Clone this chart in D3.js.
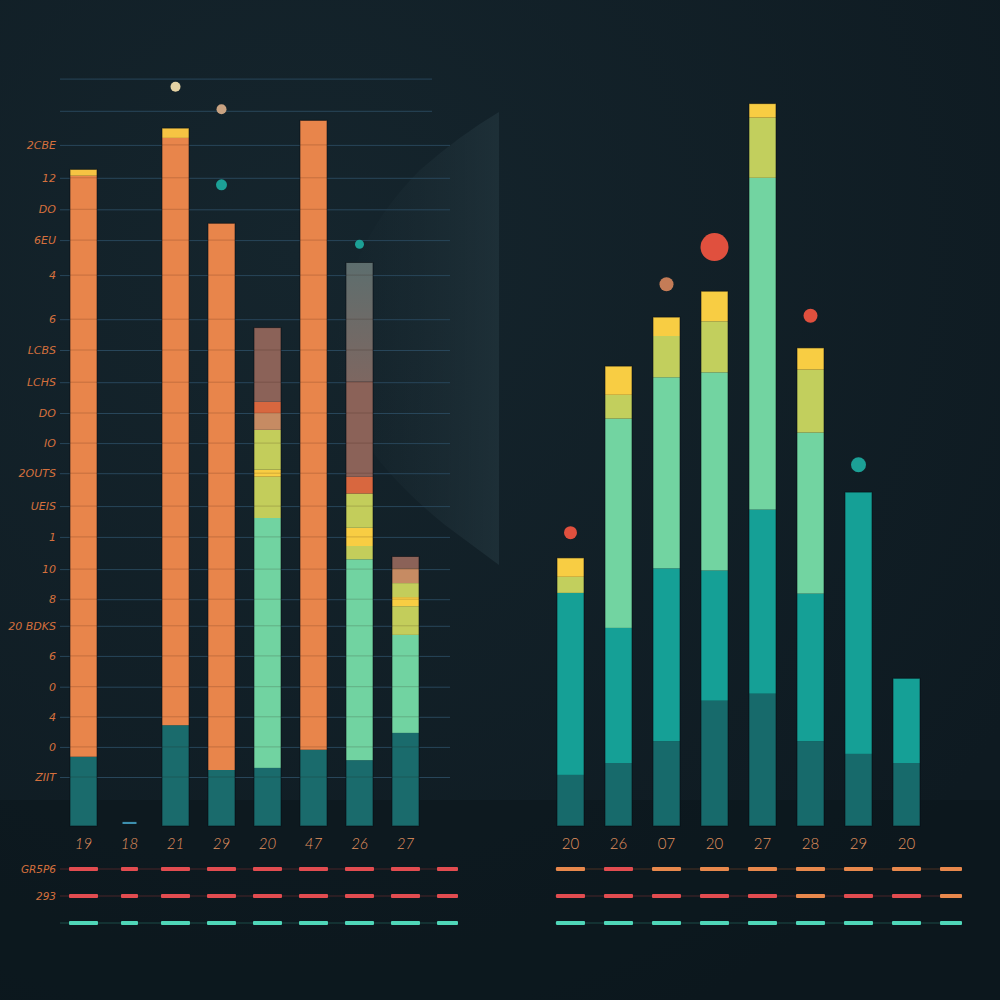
<!DOCTYPE html>
<html><head><meta charset="utf-8">
<script src="https://cdn.jsdelivr.net/npm/d3@7"></script>
<style>html,body{margin:0;padding:0;background:#101c23;} svg{display:block}</style>
</head><body><svg id="c" width="1000" height="1000"></svg>
<script>
// ---------- DATA ----------
const leftCategories = ["19","18","21","29","20","47","26","27"];
const leftKeys   = ["base","orange","cap","green","lime1","yellow","lime2","tan","rust","brown","slate"];
const leftBase   = [9.9, 0.3, 14.4, 8.0, 8.3, 10.9, 9.4, 13.3];
const leftOrange = [83.0, 0, 83.9, 78.1, 0, 89.9, 0, 0];
const leftCap    = [0.9, 0, 1.4, 0, 0, 0, 0, 0];
const leftGreen  = [0, 0, 0, 0, 35.7, 0, 28.7, 14.0];
const leftLime1  = [0, 0, 0, 0, 5.9, 0, 1.9, 4.1];
const leftYellow = [0, 0, 0, 0, 1.0, 0, 2.6, 1.3];
const leftLime2  = [0, 0, 0, 0, 5.7, 0, 4.9, 2.0];
const leftTan    = [0, 0, 0, 0, 2.4, 0, 0, 2.1];
const leftRust   = [0, 0, 0, 0, 1.6, 0, 2.4, 0];
const leftBrown  = [0, 0, 0, 0, 10.6, 0, 13.6, 1.7];
const leftSlate  = [0, 0, 0, 0, 0, 0, 17.0, 0];

const rightCategories = ["20","26","07","20","27","28","29","20"];
const rightKeys   = ["dark","mid","light","lime","yellow"];
const rightDark   = [7.3, 9.0, 12.1, 17.9, 18.9, 12.1, 10.3, 9.0];
const rightMid    = [26.0, 19.3, 24.7, 18.6, 26.3, 21.1, 37.4, 12.1];
const rightLight  = [0, 29.9, 27.3, 28.3, 47.4, 23.0, 0, 0];
const rightLime   = [2.3, 3.4, 5.9, 7.3, 8.6, 9.0, 0, 0];
const rightYellow = [2.7, 4.1, 2.7, 4.3, 2.0, 3.1, 0, 0];

const leftTickValues = [97.3, 92.6, 88.1, 83.7, 78.7, 72.4, 68.0, 63.4, 59.0, 54.7, 50.4, 45.7, 41.3, 36.7, 32.4, 28.6, 24.3, 19.9, 15.6, 11.3, 7.0];
const leftTickLabels = ["2CBE","12","DO","6EU","4","6","LCBS","LCHS","DO","IO","2OUTS","UEIS","1","10","8","20 BDKS","6","0","4","0","ZIIT"];
const leftTopGrid = [106.7, 102.1];

const leftDotSlots  = [2, 3, 3, 6];
const leftDotValues = [105.6, 102.4, 91.6, 83.1];
const leftDotSizes  = [5, 5, 5.5, 4.5];
const leftDotKinds  = ["cream", "sand", "teal", "teal"];

const rightDotSlots  = [0, 2, 3, 5, 6];
const rightDotValues = [41.9, 77.4, 82.7, 72.9, 51.6];
const rightDotSizes  = [6.5, 7, 14, 7, 7.5];
const rightDotKinds  = ["red", "copper", "red", "red", "teal"];

const legendLabelsLeft = ["GR5P6", "293", ""];
const leftLegendRows = [
  ["r","r","r","r","r","r","r","r","r"],
  ["r","r","r","r","r","r","r","r","r"],
  ["t","t","t","t","t","t","t","t","t"]
];
const rightLegendRows = [
  ["o","r","o","o","o","o","o","o","o"],
  ["r","r","r","r","r","o","r","r","o"],
  ["t","t","t","t","t","t","t","t","t"]
];

// ---------- STYLES ----------
const segColor = {
  base:"#1a6b6c", orange:"#e8854b", cap:"#f6c443", green:"#71d3a1", lime1:"#c3cd5b",
  yellow:"#f8cd43", lime2:"#c3cd5b", tan:"#c68b63", rust:"#d8673f", brown:"#8b6258",
  slate:"url(#slateGrad)",
  dark:"#176a6b", mid:"#15a096", light:"#72d4a1", lime:"#c2cf5d"
};
const dotColor = {cream:"#e6d3a3", sand:"#c9a382", teal:"#1ca096", red:"#e0503e", copper:"#c47c57"};
const dashColor = {r:"#e24c50", o:"#e8884c", t:"#4fd6b8"};
const dashLine = {r:"#4a2429", o:"#4d3023", t:"#1b4a47"};

const svg = d3.select("#c");
const defs = svg.append("defs");
const rg = defs.append("radialGradient").attr("id","bgGrad").attr("cx","30%").attr("cy","25%").attr("r","85%");
rg.append("stop").attr("offset","0%").attr("stop-color","#15252d");
rg.append("stop").attr("offset","100%").attr("stop-color","#0e1a21");
const sg = defs.append("linearGradient").attr("id","slateGrad").attr("x1",0).attr("y1",0).attr("x2",0).attr("y2",1);
sg.append("stop").attr("offset","0%").attr("stop-color","#5d6e6e");
sg.append("stop").attr("offset","100%").attr("stop-color","#7d6761");
const pg = defs.append("linearGradient").attr("id","panelGrad").attr("x1",0).attr("y1",0).attr("x2",1).attr("y2",0);
pg.append("stop").attr("offset","0%").attr("stop-color","#1d2e36").attr("stop-opacity",0);
pg.append("stop").attr("offset","100%").attr("stop-color","#22353d").attr("stop-opacity",0.7);

svg.append("rect").attr("width",1000).attr("height",1000).attr("fill","url(#bgGrad)");
svg.append("path").attr("d","M499,112 L499,565 L445,525 Q340,440 335,360 Q340,250 420,170 Q460,135 499,112 Z")
  .attr("fill","url(#panelGrad)");
svg.append("rect").attr("x",0).attr("y",800).attr("width",1000).attr("height",200).attr("fill","#0b151b").attr("opacity",0.55);

const y = d3.scaleLinear().domain([0,100]).range([826,126]);
const xL = d3.scalePoint().domain(d3.range(9)).range([83.5, 451.5]);
const xR = d3.scalePoint().domain(d3.range(9)).range([570.5, 954.5]);
const barW = 27, narrowW = 14;

// ---------- LEFT GRID / AXIS ----------
svg.append("g").selectAll("line").data(leftTopGrid).join("line")
  .attr("x1",60).attr("x2",432).attr("y1",d=>y(d)).attr("y2",d=>y(d))
  .attr("stroke","#28465a").attr("stroke-width",1);

const axis = d3.axisLeft(y).tickValues(leftTickValues)
  .tickFormat((d,i)=>leftTickLabels[i]).tickSize(-390).tickPadding(4);
const axG = svg.append("g").attr("transform","translate(60,0)").call(axis);
axG.select(".domain").remove();
axG.selectAll(".tick line").attr("stroke","#28465a").attr("stroke-width",1);
axG.selectAll(".tick text").attr("fill","#d5703d").attr("font-size",11)
  .attr("font-style","italic").attr("font-family","'DejaVu Sans', sans-serif");

// ---------- BARS ----------
function drawBars(keys, rows, x, n) {
  const table = d3.range(n).map(i => { const o = {i}; keys.forEach((k,j)=>o[k]=rows[j][i]); return o; });
  const stack = d3.stack().keys(keys)(table);
  const totals = table.map(o => d3.sum(keys, k => o[k]));
  const g = svg.append("g");
  stack.forEach(s => {
    g.selectAll(null).data(s.filter(d => d[1]-d[0] > 0)).join("rect")
      .attr("x", d => x(d.data.i) - (totals[d.data.i] < 1 ? narrowW : barW)/2)
      .attr("width", d => totals[d.data.i] < 1 ? narrowW : barW)
      .attr("y", d => totals[d.data.i] < 1 ? y(d[1]) - 2 : y(d[1]))
      .attr("height", d => Math.max(y(d[0]) - y(d[1]), 1.5))
      .attr("fill", d => totals[d.data.i] < 1 ? "#3d8fae" : segColor[s.key]);
  });
  g.selectAll("rect.outline").data(totals.map((t,i)=>({t,i})).filter(d=>d.t>=1)).join("rect")
    .attr("x", d => x(d.i) - barW/2).attr("width", barW)
    .attr("y", d => y(d.t)).attr("height", d => y(0)-y(d.t))
    .attr("fill","none").attr("stroke","rgba(4,10,14,0.55)").attr("stroke-width",1);
  return totals;
}

const leftTotals = drawBars(leftKeys,
  [leftBase,leftOrange,leftCap,leftGreen,leftLime1,leftYellow,leftLime2,leftTan,leftRust,leftBrown,leftSlate],
  xL, leftCategories.length);

// grid lines showing faintly over left bars
const clip = defs.append("clipPath").attr("id","barClip");
clip.selectAll("rect").data(leftTotals.map((t,i)=>({t,i})).filter(d=>d.t>=1)).join("rect")
  .attr("x", d => xL(d.i) - barW/2).attr("width", barW)
  .attr("y", d => y(d.t)).attr("height", d => y(0)-y(d.t));
svg.append("g").attr("clip-path","url(#barClip)")
  .selectAll("line").data(leftTickValues.concat(leftTopGrid)).join("line")
  .attr("x1",60).attr("x2",450).attr("y1",d=>y(d)).attr("y2",d=>y(d))
  .attr("stroke","rgba(40,10,0,0.18)").attr("stroke-width",1);

drawBars(rightKeys, [rightDark,rightMid,rightLight,rightLime,rightYellow], xR, rightCategories.length);

// ---------- DOTS ----------
function drawDots(slots, values, sizes, kinds, x) {
  svg.append("g").selectAll("circle").data(slots.map((s,i)=>({s,v:values[i],r:sizes[i],k:kinds[i]}))).join("circle")
    .attr("cx", d => x(d.s)).attr("cy", d => y(d.v)).attr("r", d => d.r)
    .attr("fill", d => dotColor[d.k]);
}
drawDots(leftDotSlots, leftDotValues, leftDotSizes, leftDotKinds, xL);
drawDots(rightDotSlots, rightDotValues, rightDotSizes, rightDotKinds, xR);

// ---------- CATEGORY LABELS ----------
function drawLabels(cats, x, italic) {
  svg.append("g").selectAll("text").data(cats).join("text")
    .attr("x", (d,i) => x(i)).attr("y", 849).attr("text-anchor","middle")
    .attr("font-family","Lato, 'Open Sans', sans-serif").attr("font-weight",300)
    .attr("font-style", italic ? "italic" : "normal")
    .attr("font-size",15).attr("fill","#e3935f").text(d => d);
}
drawLabels(leftCategories, xL, true);
drawLabels(rightCategories, xR, false);

// ---------- LEGEND LINES ----------
const legendY = [869, 896, 923];
function drawLegend(rows, x, x0, x1, totals) {
  rows.forEach((row, r) => {
    const g = svg.append("g");
    g.append("line").attr("x1",x0).attr("x2",x1).attr("y1",legendY[r]).attr("y2",legendY[r])
      .attr("stroke", dashLine[row[0]]).attr("stroke-width",1);
    g.selectAll("rect").data(row).join("rect")
      .attr("x", (d,i) => x(i) - ((totals && totals[i] < 1) ? 17 : 29)/2)
      .attr("width", (d,i) => {
        const w = (totals && totals[i] < 1) ? 17 : 29;
        const left = x(i) - w/2;
        return Math.max(0, Math.min(left + w, x1) - left);
      })
      .attr("y", legendY[r]-2).attr("height",4).attr("rx",1)
      .attr("fill", d => dashColor[d]);
  });
}
drawLegend(leftLegendRows, xL, 60, 458, leftTotals);
drawLegend(rightLegendRows, xR, 555, 962, null);

svg.append("g").selectAll("text").data(legendLabelsLeft).join("text")
  .attr("x",56).attr("y",(d,i)=>legendY[i]+4).attr("text-anchor","end")
  .attr("font-size",10.5).attr("font-style","italic").attr("font-family","'DejaVu Sans', sans-serif")
  .attr("fill","#d5703d").text(d=>d);
</script>
</body></html>
